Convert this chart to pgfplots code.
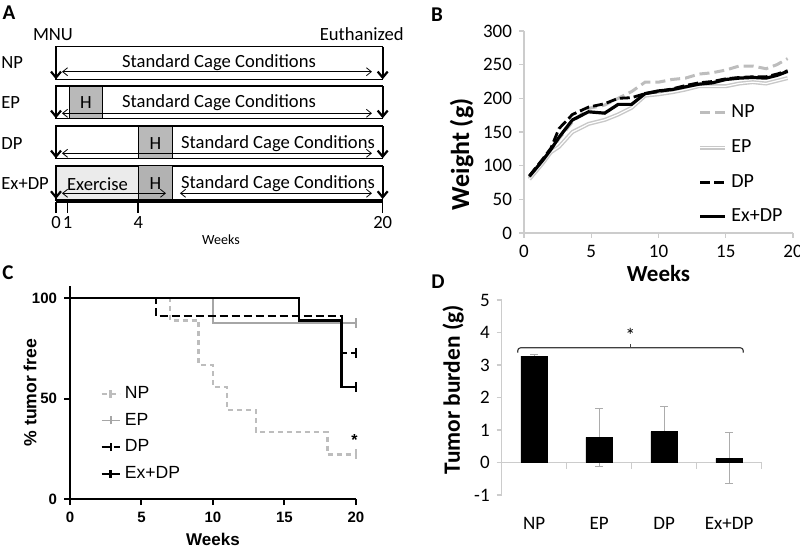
\documentclass[border=0pt]{standalone}
\usepackage{fontspec}
\setmainfont{Carlito}
\newfontfamily\arial{Liberation Sans}
\usepackage{pgfplots}
\pgfplotsset{compat=1.18}
\usetikzlibrary{arrows.meta}
\definecolor{npgray}{HTML}{BDBDBD}
\definecolor{epgray}{HTML}{C8C8C8}
\begin{document}
\begin{tikzpicture}[x=1bp,y=1bp,
  atext/.style={font=\fontsize{9.3bp}{11bp}\selectfont, inner sep=0pt},
  barrow/.style={line width=1.1bp, -{Straight Barb[length=3bp,width=5bp]}},
  darrow/.style={line width=0.4bp, {Straight Barb[length=2.5bp,width=4bp]}-{Straight Barb[length=2.5bp,width=4bp]}},
  plabel/.style={font=\bfseries\fontsize{10.5bp}{12bp}\selectfont, inner sep=0pt}]
\useasboundingbox (0bp,0bp) rectangle (400bp,274.5bp);

% ---------------- Panel A (schematic) ----------------
\begin{axis}[at={(0bp,134.5bp)}, anchor=south west, scale only axis,
  width=210bp, height=140bp, xmin=0, xmax=420, ymin=0, ymax=280,
  y dir=reverse, hide axis, clip=false, enlargelimits=false]
% rows
\draw[line width=0.6bp] (axis cs:56,46.7) rectangle (axis cs:382.7,79.3);
\draw[line width=0.6bp] (axis cs:56,86) rectangle (axis cs:382.7,118.3);
\draw[line width=0.6bp] (axis cs:56,126) rectangle (axis cs:382.7,158.3);
\fill[gray!16] (axis cs:56,166) rectangle (axis cs:138.3,200);
\draw[line width=0.6bp] (axis cs:56,166) rectangle (axis cs:382.7,200);
\filldraw[fill=gray!55, line width=0.5bp] (axis cs:69.3,86) rectangle (axis cs:102.3,118.3);
\filldraw[fill=gray!55, line width=0.5bp] (axis cs:138.3,126) rectangle (axis cs:172.3,158.3);
\filldraw[fill=gray!60, line width=0.5bp] (axis cs:138.3,166) rectangle (axis cs:172.3,200);
% vertical arrows
\draw[barrow] (axis cs:56,46.7) -- (axis cs:56,79.3);
\draw[barrow] (axis cs:382.7,46.7) -- (axis cs:382.7,79.3);
\draw[barrow] (axis cs:56,86) -- (axis cs:56,118.3);
\draw[barrow] (axis cs:382.7,86) -- (axis cs:382.7,118.3);
\draw[barrow] (axis cs:56,126) -- (axis cs:56,158.3);
\draw[barrow] (axis cs:382.7,126) -- (axis cs:382.7,158.3);
\draw[barrow] (axis cs:56,166) -- (axis cs:56,199);
\draw[barrow] (axis cs:382.7,166) -- (axis cs:382.7,199);
% double arrows
\draw[darrow] (axis cs:62,71.7) -- (axis cs:372,71.7);
\draw[darrow] (axis cs:62,113.3) -- (axis cs:372,113.3);
\draw[darrow] (axis cs:62,153.3) -- (axis cs:372,153.3);
\draw[darrow] (axis cs:62,193.3) -- (axis cs:166,193.3);
\draw[darrow] (axis cs:180,193.3) -- (axis cs:372,193.3);
% timeline
\draw[line width=1.5bp] (axis cs:56,201.7) -- (axis cs:382.7,201.7);
\draw[line width=0.8bp] (axis cs:56,201.7) -- (axis cs:56,213);
\draw[line width=0.8bp] (axis cs:67.7,201.7) -- (axis cs:67.7,213);
\draw[line width=0.8bp] (axis cs:138.3,201.7) -- (axis cs:138.3,213);
\draw[line width=0.8bp] (axis cs:382.7,201.7) -- (axis cs:382.7,213);
\node[atext] at (axis cs:56,223) {0};
\node[atext] at (axis cs:67.7,223) {1};
\node[atext] at (axis cs:138.3,223) {4};
\node[atext] at (axis cs:382.7,223) {20};
\node[atext, font=\fontsize{7bp}{8bp}\selectfont] at (axis cs:221,240) {Weeks};
% texts
\node[atext] at (axis cs:53,35) {MNU};
\node[atext, anchor=east] at (axis cs:404,34) {Euthanized};
\node[atext, anchor=west] at (axis cs:1,63) {NP};
\node[atext, anchor=west] at (axis cs:1,103) {EP};
\node[atext, anchor=west] at (axis cs:1,144) {DP};
\node[atext, anchor=west] at (axis cs:1,184) {Ex+DP};
\node[atext] at (axis cs:219,63) {Standard Cage Conditions};
\node[atext] at (axis cs:219,103) {Standard Cage Conditions};
\node[atext] at (axis cs:278,144) {Standard Cage Conditions};
\node[atext] at (axis cs:278,184) {Standard Cage Conditions};
\node[atext] at (axis cs:85.8,103) {H};
\node[atext] at (axis cs:155.3,144) {H};
\node[atext] at (axis cs:155.3,184) {H};
\node[atext] at (axis cs:97.5,184) {Exercise};
\end{axis}

% ---------------- Panel B ----------------
\begin{axis}[at={(262bp,158bp)}, anchor=south west, scale only axis,
  width=134.5bp, height=101bp, xmin=0, xmax=20, ymin=0, ymax=300,
  enlargelimits=false, clip=false,
  xtick={0,5,...,20}, ytick={0,50,...,300},
  axis x line*=bottom, axis y line*=left,
  axis line style={gray!40, line width=0.6bp},
  tick style={gray!40, line width=0.6bp}, tick align=outside, major tick length=2.5bp,
  /pgf/number format/assume math mode=true,
  ticklabel style={font=\fontsize{9.5bp}{11bp}\selectfont},
  xlabel={Weeks}, ylabel={Weight (g)},
  xlabel style={font=\bfseries\fontsize{11.5bp}{13bp}\selectfont, at={(axis description cs:0.5,-0.2)}, anchor=center},
  ylabel style={font=\bfseries\fontsize{13bp}{15bp}\selectfont, at={(axis description cs:-0.232,0.39)}, anchor=center},
  legend style={at={(axis description cs:0.647,0.655)}, anchor=north west, draw=none, fill=none,
    font=\fontsize{10bp}{12bp}\selectfont, row sep=5.4bp, inner sep=0pt},
  legend cell align=left,
  legend image code/.code={\draw[#1] (0bp,0bp) -- (12.5bp,0bp);}]
\addplot[npgray, line width=1.5bp, dash pattern=on 5bp off 2.5bp] coordinates {
(0.4,82)(1.4,106)(2,122)(2.6,140)(3.6,165)(4.8,185)(6,190)(7,200)(8,210)(9,224)(10,224)(11,228)(12,230)(13,236)(14,238)(15,242)(16,248)(17,248)(18,244)(18.8,250)(19.6,259)};
\addlegendentry{NP}
\addplot[draw=epgray, double=white, double distance=0.6bp, line width=0.7bp] coordinates {
(0.4,80)(1.4,104)(2,120)(2.6,128)(3.6,150)(4.8,162)(6,168)(7,176)(8,186)(9,204)(10,206)(11,209)(12,213)(13,218)(14,218)(15,218)(16,222)(17,224)(18,222)(18.8,226)(19.6,230)};
\addlegendentry{EP}
\addplot[black, line width=1.4bp, dash pattern=on 5bp off 2bp] coordinates {
(0.4,85)(1.4,110)(2,126)(2.6,155)(3.6,176)(4.8,187)(6,192)(7,200)(8,201)(9,207)(10,210)(11,214)(12,219)(13,223)(14,225)(15,229)(16,231)(17,232)(18,232)(18.8,236)(19.6,241)};
\addlegendentry{DP}
\addplot[black, line width=1.6bp] coordinates {
(0.4,84)(1.4,108)(2,124)(2.6,142)(3.6,168)(4.8,180)(6,178)(7,191)(8,191)(9,207)(10,211)(11,213)(12,217)(13,221)(14,223)(15,228)(16,230)(17,231)(18,230)(18.8,234)(19.6,240)};
\addlegendentry{Ex+DP}
\end{axis}

% ---------------- Panel C ----------------
\begin{axis}[at={(35bp,25bp)}, anchor=south west, scale only axis,
  width=143bp, height=106.5bp, xmin=0, xmax=20, ymin=0, ymax=106,
  enlargelimits=false, clip=false,
  xtick={0,5,...,20}, ytick={0,50,100},
  axis x line*=bottom, axis y line*=left,
  axis line style={black, line width=1.2bp},
  tick style={black, line width=1bp}, tick align=outside, major tick length=3bp,
  /pgf/number format/assume math mode=true,
  ticklabel style={font=\arial\bfseries\fontsize{7.5bp}{9bp}\selectfont},
  xlabel={Weeks}, ylabel={\% tumor free},
  xlabel style={font=\arial\bfseries\fontsize{8.5bp}{10bp}\selectfont, at={(axis description cs:0.5,-0.19)}, anchor=center},
  ylabel style={font=\arial\bfseries\fontsize{8.8bp}{10bp}\selectfont, at={(axis description cs:-0.14,0.5)}, anchor=center},
  const plot,
  legend style={at={(axis description cs:0.105,0.55)}, anchor=north west, draw=none, fill=none,
    font=\arial\fontsize{8.8bp}{10bp}\selectfont, row sep=1.8bp, inner sep=0pt},
  legend cell align=left,
  legend image code/.code={\draw[#1] (0bp,0bp) -- (9bp,0bp); \draw[#1,solid] (4.5bp,-2bp) -- (4.5bp,2bp);}]
\addplot[npgray, line width=1.2bp, dash pattern=on 2.5bp off 2bp] coordinates {
(0,100)(7,88.9)(9,66.7)(10,55.6)(11,44.4)(13,33.3)(18,22.2)(20,22.2)};
\addlegendentry{NP}
\addplot[gray!70, line width=0.9bp] coordinates {(0,100)(10,87.5)(20,87.5)};
\addlegendentry{EP}
\addplot[black, line width=1bp, dash pattern=on 4bp off 2bp] coordinates {(0,100)(6,90.9)(19,72.7)(20,72.7)};
\addlegendentry{DP}
\addplot[black, line width=1.2bp] coordinates {(0,100)(16,88.9)(19,55.6)(20,55.6)};
\addlegendentry{Ex+DP}
\addplot[forget plot, only marks, mark=|, mark size=2.5bp, mark options={npgray, line width=0.9bp, solid}] coordinates {(20,22.2)};
\addplot[forget plot, only marks, mark=|, mark size=2.5bp, mark options={gray!70, line width=0.9bp, solid}] coordinates {(20,87.5)};
\addplot[forget plot, only marks, mark=|, mark size=2.5bp, mark options={black, line width=0.9bp, solid}] coordinates {(20,72.7)};
\addplot[forget plot, only marks, mark=|, mark size=2.5bp, mark options={black, line width=0.9bp, solid}] coordinates {(20,55.6)};
\node[font=\arial\bfseries\fontsize{8bp}{9bp}\selectfont] at (axis cs:19.9,29.4) {*};
\end{axis}

% ---------------- Panel D ----------------
\begin{axis}[at={(250.85bp,27bp)}, anchor=south west, scale only axis,
  width=130bp, height=97.5bp, xmin=-0.5, xmax=3.5, ymin=-1, ymax=5,
  enlargelimits=false, clip=false,
  ytick={-1,0,...,5}, xtick={0,1,2,3}, xticklabels={NP,EP,DP,Ex+DP},
  axis x line*=bottom, axis y line*=left,
  x axis line style={draw=none}, y axis line style={gray!40, line width=0.6bp},
  ytick style={gray!40, line width=0.6bp}, xtick style={draw=none},
  tick align=outside, major tick length=2.5bp,
  /pgf/number format/assume math mode=true,
  ticklabel style={font=\fontsize{9.5bp}{11bp}\selectfont},
  xticklabel style={yshift=-5bp},
  ylabel={Tumor burden (g)},
  ylabel style={font=\bfseries\fontsize{11.7bp}{13bp}\selectfont, at={(axis description cs:-0.187,0.54)}, anchor=center},
  ybar, bar width=13.25bp, bar shift=0pt]
\draw[gray!40, line width=0.6bp] (axis cs:-0.5,0) -- (axis cs:3.5,0);
\pgfplotsinvokeforeach{-0.5,0.5,1.5,2.5,3.5}{\draw[gray!40, line width=0.6bp] (axis cs:#1,0) -- (axis cs:#1,-0.2);}
\addplot[draw=none, fill=none,
  error bars/.cd, y dir=both, y explicit,
  error bar style={draw=gray!65, line width=0.5bp},
  error mark options={draw=gray!65, line width=0.5bp, mark size=2bp, rotate=90}]
  coordinates {(0,3.27)+-(0,0.06) (1,0.77)+-(0,0.88) (2,0.95)+-(0,0.77) (3,0.13)+-(0,0.78)};
\addplot[fill=black, draw=black]
  coordinates {(0,3.27) (1,0.77) (2,0.95) (3,0.13)};
\draw[line width=0.6bp, black!75, rounded corners=1.5bp] (axis cs:-0.254,3.38) |- (axis cs:3.217,3.53) -- (axis cs:3.217,3.38);
\draw[line width=0.6bp, black!75] (axis cs:1.48,3.53) -- (axis cs:1.48,3.66);
\node[font=\fontsize{10bp}{11bp}\selectfont] at (axis cs:1.48,3.92) {*};
\end{axis}

% panel labels
\node[plabel] at (4.5bp,268bp) {A};
\node[plabel] at (218.5bp,267bp) {B};
\node[plabel] at (4bp,138bp) {C};
\node[plabel] at (219bp,133.5bp) {D};
\end{tikzpicture}
\end{document}
